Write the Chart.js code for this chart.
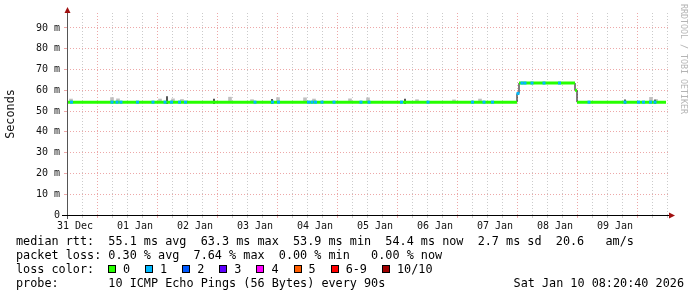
<!DOCTYPE html>
<html>
<head>
<meta charset="utf-8">
<script src="https://cdn.jsdelivr.net/npm/chart.js@4.4.1/dist/chart.umd.min.js"></script>
<style>
html, body { margin: 0; padding: 0; background: #fff; }
#wrap { position: relative; width: 697px; height: 297px; overflow: hidden; }
#chart { position: absolute; left: 0; top: 0; }
.txt { position: absolute; left: 16px; font-family: "DejaVu Sans Mono", monospace; font-size: 11.8px; line-height: 14px; color: #000; white-space: pre; }
#legend { position: absolute; left: 108px; top: 262px; height: 14px; display: flex; align-items: center; font-family: "DejaVu Sans Mono", monospace; font-size: 11.8px; white-space: pre; }
#legend .sq { width: 8px; height: 8px; box-sizing: border-box; border: 1px solid #000; margin-right: 7px; }
#legend .lb { margin-right: 15px; }
#stamp { position: absolute; right: 13px; top: 276px; font-family: "DejaVu Sans Mono", monospace; font-size: 11.8px; line-height: 14px; white-space: pre; }
#mark { position: absolute; left: 680px; top: 4px; writing-mode: vertical-rl; font-family: "DejaVu Sans Mono", monospace; font-size: 8.3px; line-height: 8px; color: #b4b4b4; white-space: pre; }
</style>
</head>
<body>
<div id="wrap">
  <canvas id="chart" width="697" height="297"></canvas>
  <div id="mark">RRDTOOL / TOBI OETIKER</div>
  <div class="txt" style="top:234px">median rtt:  55.1 ms avg  63.3 ms max  53.9 ms min  54.4 ms now  2.7 ms sd  20.6   am/s</div>
  <div class="txt" style="top:248px">packet loss: 0.30 % avg  7.64 % max  0.00 % min   0.00 % now</div>
  <div class="txt" style="top:262px">loss color:</div>
  <div id="legend"></div>
  <div class="txt" style="top:276px">probe:       10 ICMP Echo Pings (56 Bytes) every 90s</div>
  <div id="stamp">Sat Jan 10 08:20:40 2026</div>
</div>
<script>
// time axis in hours, 0 = the "31 Dec" tick
const dayLabels = ['31 Dec', '01 Jan', '02 Jan', '03 Jan', '04 Jan', '05 Jan', '06 Jan', '07 Jan', '08 Jan', '09 Jan'];

// median rtt (ms), each value holds until the next hour mark
const medianHours = [-3.2, 176.8, 177.6, 200.0, 200.8, 236.4];
const medianMs    = [54.3, 58.5, 63.5, 60.0, 54.3, 54.3];

// smoke spikes above the median (ms)
const smokeHours = [-1.6, 14.8, 17.2, 34, 39.2, 42.8, 62, 70.8, 81.2, 92, 95.6, 110, 117.2, 136.8, 151.6, 162, 230.4, 232.4];
const smokeTopMs = [55.8, 56.5, 55.9, 55.8, 55.9, 55.6, 56.7, 55.5, 56.5, 56.4, 55.8, 55.9, 56.4, 55.5, 55.4, 55.8, 56.6, 55.6];
const darkHours  = [36.8, 55.6, 78.8, 132, 220, 232];
const darkTopMs  = [57.0, 55.8, 55.6, 55.8, 55.4, 55.3];

// samples with 1 of 10 pings lost
const loss1Hours = [-1.4, 14.8, 16.8, 18.4, 25, 31.2, 36, 38.6, 41.8, 44.2, 72, 79, 81.4, 93.4, 94.8, 96.2, 98.8, 103.6,
  114.4, 117.6, 130.6, 141.2, 159, 163.6, 167, 177.2, 178.8, 180, 182.8, 187.6, 193.8, 205.6, 220, 225.4, 227.4, 230.2, 232];

const lossLabels = ['0', '1', '2', '3', '4', '5', '6-9', '10/10'];
const lossColors = ['#26ff00', '#00b8ff', '#0059ff', '#5e00ff', '#ff00ff', '#ff5e00', '#ff0000', '#a00000'];

const legend = document.getElementById('legend');
lossLabels.forEach((l, i) => {
    legend.insertAdjacentHTML('beforeend', '<span class="sq" style="background:' + lossColors[i] + '"></span><span class="lb">' + l + '</span>');
});

function medianAt(h) {
    let v = medianMs[0];
    for (let i = 0; i < medianHours.length; i++) {
        if (medianHours[i] <= h) v = medianMs[i];
    }
    return v;
}

// flat pieces of the median for the thick loss-coloured line
let flats = [];
for (let i = 0; i < medianHours.length - 1; i++) {
    flats.push({x: medianHours[i], y: medianMs[i]});
    flats.push({x: medianHours[i + 1], y: medianMs[i]});
}

const majorCol = 'rgba(225,110,110,0.6)';
const minorCol = 'rgba(160,160,160,0.55)';
const fontMono = 'DejaVu Sans Mono';

const axesPlugin = {
    id: 'rrdAxes',
    afterDatasetsDraw(chart) {
        const ctx = chart.ctx;
        const a = chart.chartArea;
        ctx.save();
        ctx.lineWidth = 1;
        ctx.strokeStyle = '#555';
        ctx.beginPath();
        ctx.moveTo(a.left + 0.5, a.bottom + 4);
        ctx.lineTo(a.left + 0.5, a.top - 1);
        ctx.stroke();
        ctx.strokeStyle = '#000';
        ctx.beginPath();
        ctx.moveTo(a.left - 5, a.bottom + 0.5);
        ctx.lineTo(a.right + 1, a.bottom + 0.5);
        ctx.stroke();
        ctx.fillStyle = '#a01010';
        ctx.beginPath();
        ctx.moveTo(a.left + 0.5, a.top - 6);
        ctx.lineTo(a.left + 3.5, a.top);
        ctx.lineTo(a.left - 2.5, a.top);
        ctx.closePath();
        ctx.fill();
        ctx.beginPath();
        ctx.moveTo(a.right + 6, a.bottom + 0.5);
        ctx.lineTo(a.right, a.bottom - 2.5);
        ctx.lineTo(a.right, a.bottom + 3.5);
        ctx.closePath();
        ctx.fill();
        ctx.restore();
    }
};

new Chart(document.getElementById('chart'), {
    type: 'line',
    data: {
        datasets: [
            {
                label: 'loss 1',
                data: loss1Hours.map(h => ({x: h, y: medianAt(h)})),
                showLine: false,
                pointStyle: 'rect',
                pointRadius: 2.1,
                pointBorderWidth: 0,
                pointBackgroundColor: lossColors[1],
                order: 0
            },
            {
                label: 'median',
                data: flats,
                borderColor: lossColors[0],
                borderWidth: 3,
                pointRadius: 0,
                segment: {
                    borderColor: c => c.p0.parsed.x === c.p1.parsed.x ? 'rgba(0,0,0,0)' : lossColors[0]
                },
                order: 1
            },
            {
                label: 'median line',
                data: medianHours.map((h, i) => ({x: h, y: medianMs[i]})),
                borderColor: '#000',
                borderWidth: 1,
                pointRadius: 0,
                stepped: true,
                order: 2
            },
            {
                type: 'bar',
                label: 'smoke dark',
                data: darkHours.map((h, i) => ({x: h, y: [53.6, darkTopMs[i]]})),
                backgroundColor: '#333',
                barThickness: 1,
                grouped: false,
                order: 3
            },
            {
                type: 'bar',
                label: 'smoke',
                data: smokeHours.map((h, i) => ({x: h, y: [54.5, smokeTopMs[i]]})),
                backgroundColor: '#c0c0c0',
                barThickness: 3,
                grouped: false,
                order: 4
            }
        ]
    },
    options: {
        responsive: false,
        animation: false,
        devicePixelRatio: 1,
        layout: {padding: {left: 0, right: 28, top: 13, bottom: 0}},
        plugins: {legend: {display: false}, tooltip: {enabled: false}},
        scales: {
            x: {
                type: 'linear',
                min: -3.2,
                max: 237.6,
                offset: false,
                afterFit: s => { s.height = 82; },
                ticks: {
                    stepSize: 6,
                    autoSkip: false,
                    maxRotation: 0,
                    includeBounds: false,
                    padding: 2,
                    color: '#111',
                    font: {family: fontMono, size: 10},
                    callback: v => Math.round(v) % 24 === 0 ? dayLabels[Math.round(v) / 24] : ''
                },
                grid: {
                    color: c => c.tick && Math.round(c.tick.value) % 24 === 12 ? majorCol : minorCol,
                    tickColor: c => c.tick && Math.round(c.tick.value) % 24 === 12 ? majorCol : minorCol,
                    drawTicks: true,
                    tickLength: 3
                },
                border: {display: false, dash: [1, 2]}
            },
            y: {
                min: 0,
                max: 97.2,
                afterFit: s => { s.width = 67; },
                title: {
                    display: true,
                    text: 'Seconds',
                    color: '#111',
                    font: {family: fontMono, size: 11.8},
                    padding: {top: 4, bottom: 0}
                },
                ticks: {
                    stepSize: 5,
                    includeBounds: false,
                    padding: 4,
                    color: '#111',
                    font: {family: fontMono, size: 10},
                    callback: v => Math.round(v) % 10 !== 0 ? '' : (v === 0 ? '0' : Math.round(v) + ' m')
                },
                grid: {
                    color: c => c.tick && Math.round(c.tick.value) % 10 === 0 ? majorCol : minorCol,
                    tickColor: c => c.tick && Math.round(c.tick.value) % 10 === 0 ? majorCol : minorCol,
                    drawTicks: true,
                    tickLength: 3
                },
                border: {display: false, dash: [1, 2]}
            }
        }
    },
    plugins: [axesPlugin]
});
</script>
</body>
</html>
